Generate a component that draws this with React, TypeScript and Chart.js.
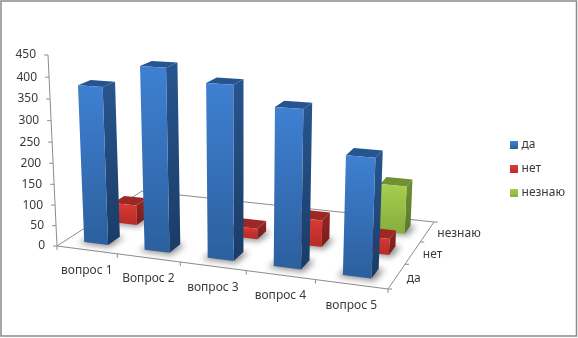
import React, { useEffect, useRef } from "react";
import { Chart, registerables } from "chart.js";

Chart.register(...registerables);

const questions = ["вопрос 1", "Вопрос 2", "вопрос 3", "вопрос 4", "вопрос 5"];
const answers = ["да", "нет", "незнаю"];
const yesValues = [375, 428, 400, 358, 266];
const noValues = [50, 0, 26, 64, 38];
const unsureValues = [0, 0, 0, 0, 116];

const FONT = '"Noto Sans", sans-serif';
const TEXT = "#3a3a3a";
const AXIS = "#8c8c8c";

// Projection of the chart's 3-D box onto the picture
const FLOOR: [number, number][] = [[57, 246], [388, 289], [434, 222], [142, 191]];
const LAMBDA = -1.024e-4;
const VP = [243, 4200];
const BAR_SHARE = 0.4;

function makeHomography() {
  const [p0, p1, p2, p3] = FLOOR;
  const dx1 = p1[0] - p2[0], dx2 = p3[0] - p2[0], sx = p0[0] - p1[0] + p2[0] - p3[0];
  const dy1 = p1[1] - p2[1], dy2 = p3[1] - p2[1], sy = p0[1] - p1[1] + p2[1] - p3[1];
  const d = dx1 * dy2 - dx2 * dy1;
  const g = (sx * dy2 - dx2 * sy) / d;
  const h = (dx1 * sy - sx * dy1) / d;
  return [
    p1[0] - p0[0] + g * p1[0], p3[0] - p0[0] + h * p3[0], p0[0],
    p1[1] - p0[1] + g * p1[1], p3[1] - p0[1] + h * p3[1], p0[1],
    g, h, 1,
  ];
}
const H = makeHomography();

function project(u: number, v: number, z: number): [number, number] {
  const X = H[0] * u + H[1] * v + H[2] + z * LAMBDA * VP[0];
  const Y = H[3] * u + H[4] * v + H[5] + z * LAMBDA * VP[1];
  const W = H[6] * u + H[7] * v + H[8] + z * LAMBDA;
  return [X / W, Y / W];
}

const PALETTE = [
  { front: ["#3f80d2", "#2c609f"], side: ["#28558e", "#1a3c66"], top: "#255490" },
  { front: ["#dc3b36", "#b82d29"], side: ["#942523", "#7a1d1b"], top: "#9c2825" },
  { front: ["#a6ce4e", "#88ae3e"], side: ["#6f9033", "#5c782a"], top: "#6f9033" },
];

function swatch(colors: string[]) {
  const c = document.createElement("canvas");
  c.width = 8;
  c.height = 8;
  const g = c.getContext("2d")!;
  const grad = g.createLinearGradient(0, 0, 0, 8);
  grad.addColorStop(0, colors[0]);
  grad.addColorStop(1, colors[1]);
  g.fillStyle = grad;
  g.fillRect(0, 0, 8, 8);
  return c;
}

function poly(ctx: CanvasRenderingContext2D, pts: [number, number][], fill: any) {
  ctx.beginPath();
  pts.forEach((p, i) => (i ? ctx.lineTo(p[0], p[1]) : ctx.moveTo(p[0], p[1])));
  ctx.closePath();
  ctx.fillStyle = fill;
  ctx.fill();
}

function line(ctx: CanvasRenderingContext2D, a: [number, number], b: [number, number]) {
  ctx.beginPath();
  ctx.moveTo(a[0], a[1]);
  ctx.lineTo(b[0], b[1]);
  ctx.stroke();
}

function drawAxes(chart: any) {
  const { ctx, scales } = chart;
  const { x, y, depth } = scales;
  ctx.save();
  ctx.strokeStyle = AXIS;
  ctx.lineWidth = 1;
  const c0 = project(0, 0, 0), c1 = project(1, 0, 0), c2 = project(1, 1, 0), c3 = project(0, 1, 0);
  line(ctx, c0, c1); line(ctx, c1, c2); line(ctx, c2, c3); line(ctx, c3, c0);
  line(ctx, c0, project(0, 0, y.max));
  ctx.font = `12px ${FONT}`;
  ctx.fillStyle = TEXT;
  ctx.textBaseline = "middle";
  ctx.textAlign = "right";
  y.ticks.forEach((t: any) => {
    const p = project(0, 0, t.value);
    line(ctx, p, [p[0] - 4, p[1]]);
    ctx.fillText(String(t.value), p[0] - 12, p[1]);
  });
  ctx.textAlign = "center";
  const n = x.getLabels().length;
  x.getLabels().forEach((lab: string, i: number) => {
    const p = project((i + 0.5) / n, 0, 0);
    ctx.fillText(lab, p[0], p[1] + 21);
  });
  for (let i = 0; i <= n; i++) {
    const p = project(i / n, 0, 0);
    line(ctx, p, [p[0], p[1] + 4]);
  }
  ctx.textAlign = "left";
  const m = depth.getLabels().length;
  depth.getLabels().forEach((lab: string, j: number) => {
    const p = project(1, (j + 0.5) / m, 0);
    ctx.fillText(lab, p[0] + 10 , p[1] + 2);
  });
  for (let j = 0; j <= m; j++) {
    const p = project(1, j / m, 0);
    line(ctx, p, [p[0] + 4, p[1]]);
  }
  ctx.restore();
}

function drawBars(chart: any) {
  const { ctx, scales } = chart;
  const { x, y, depth } = scales;
  const n = x.getLabels().length;
  const m = depth.getLabels().length;
  const toU = (i: number) => (x.getPixelForValue(i) - x.left) / x.width;
  const toV = (j: number) => (depth.bottom - depth.getPixelForValue(j)) / depth.height;
  const toZ = (val: number) => ((y.bottom - y.getPixelForValue(val)) / y.height) * y.max;
  const halfU = BAR_SHARE / n / 2;
  const halfV = BAR_SHARE / m / 2;
  for (let j = chart.data.datasets.length - 1; j >= 0; j--) {
    const data = chart.data.datasets[j].data as number[];
    const vc = toV(j);
    const v0 = vc - halfV, v1 = vc + halfV;
    data.forEach((val, i) => {
      if (!val) return;
      const uc = toU(i);
      const u0 = uc - halfU, u1 = uc + halfU;
      ctx.save();
      ctx.filter = "blur(3px)";
      poly(ctx, [project(u0 - 0.012, v0 - 0.025, 0), project(u1 + 0.012, v0 - 0.025, 0), project(u1 + 0.016, v1, 0), project(u0, v1, 0)], "rgba(0,0,0,0.45)");
      ctx.restore();
    });
    data.forEach((val, i) => {
      if (!val) return;
      const z = toZ(val);
      const uc = toU(i);
      const u0 = uc - halfU, u1 = uc + halfU;
      const pal = PALETTE[j];
      const fb = project(u0, v0, 0), fbr = project(u1, v0, 0), ft = project(u0, v0, z), ftr = project(u1, v0, z);
      const bbr = project(u1, v1, 0), btr = project(u1, v1, z), btl = project(u0, v1, z);
      const gf = ctx.createLinearGradient(0, ft[1], 0, fb[1]);
      gf.addColorStop(0, pal.front[0]); gf.addColorStop(1, pal.front[1]);
      const gs = ctx.createLinearGradient(0, btr[1], 0, fbr[1]);
      gs.addColorStop(0, pal.side[0]); gs.addColorStop(1, pal.side[1]);
      poly(ctx, [fbr, bbr, btr, ftr], gs);
      poly(ctx, [ft, ftr, btr, btl], pal.top);
      poly(ctx, [fb, fbr, ftr, ft], gf);
    });
  }
}

const framePlugin = {
  id: "frame",
  beforeDraw(chart: any) {
    const { ctx } = chart;
    ctx.save();
    ctx.fillStyle = "#ffffff";
    ctx.fillRect(0, 0, chart.width, chart.height);
    ctx.strokeStyle = "#8a8a8a";
    ctx.lineWidth = 1.5;
    ctx.strokeRect(1, 1, 575.5, 335);
    ctx.restore();
  },
  beforeDatasetsDraw(chart: any) {
    drawAxes(chart);
    drawBars(chart);
    return false;
  },
};

export default function App() {
  const ref = useRef<HTMLCanvasElement>(null);
  useEffect(() => {
    const swatches = PALETTE.map((p) => swatch(p.front));
    const chart = new Chart(ref.current!, {
      type: "bar",
      data: {
        labels: questions,
        datasets: [
          { label: answers[0], data: yesValues, backgroundColor: PALETTE[0].front[1] },
          { label: answers[1], data: noValues, backgroundColor: PALETTE[1].front[1] },
          { label: answers[2], data: unsureValues, backgroundColor: PALETTE[2].front[1] },
        ],
      },
      options: {
        responsive: false,
        animation: false,
        layout: { padding: { right: 3 } },
        scales: {
          x: { type: "category", display: false },
          y: { type: "linear", min: 0, max: 450, ticks: { stepSize: 50 }, display: false },
          depth: { type: "category", axis: "y", labels: answers, offset: true, reverse: true, display: false },
        } as any,
        plugins: {
          tooltip: { enabled: false },
          legend: {
            position: "right",
            onClick: () => {},
            labels: {
              usePointStyle: true,
              pointStyleWidth: 3,
              boxHeight: 8,
              padding: 12,
              color: TEXT,
              font: { family: "Noto Sans", size: 12 },
              generateLabels: (c: any) =>
                Chart.defaults.plugins.legend.labels.generateLabels(c).map((l: any, i: number) => ({
                  ...l,
                  pointStyle: swatches[i],
                })),
            },
          },
        },
      },
      plugins: [framePlugin],
    });
    return () => chart.destroy();
  }, []);
  return (
    <canvas
      ref={ref}
      width={578}
      height={338}
      style={{ position: "fixed", left: 0, top: 0, display: "block", filter: "blur(0.35px)" }}
    />
  );
}
